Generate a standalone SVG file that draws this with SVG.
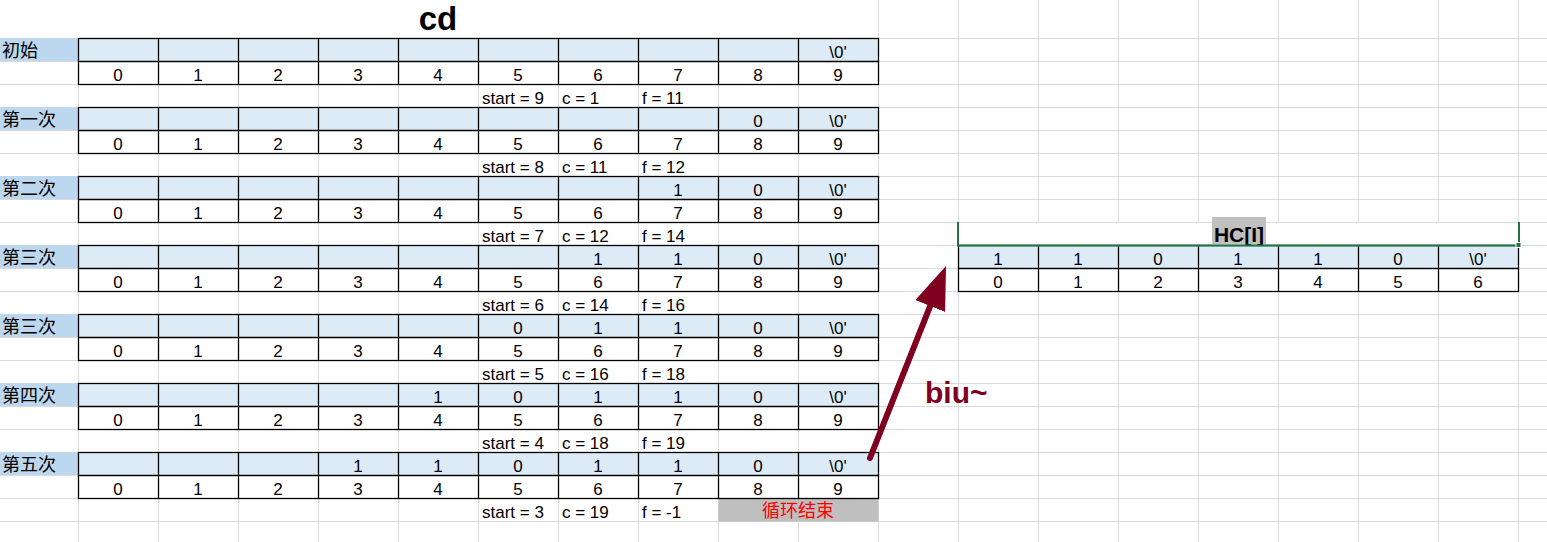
<svg xmlns="http://www.w3.org/2000/svg" width="1547" height="542" viewBox="0 0 1547 542">
<style>
.g{stroke:#DADADA;stroke-width:1;fill:none}
.bd{stroke:#000;stroke-width:1.3;fill:none}
.val{fill:#DDEBF7}
.lab{fill:#BDD7EE}
text{font-family:"Liberation Sans","Noto Sans CJK SC",sans-serif;font-size:17px;fill:#000}
.c{text-anchor:middle}
.cjk{font-family:"Noto Sans CJK SC",sans-serif;font-size:18px}
</style>
<defs>
<marker id="ah" markerUnits="userSpaceOnUse" viewBox="0 0 43 32" markerWidth="43" markerHeight="32" refX="10" refY="16" orient="auto">
<path d="M0,0 L43,16 L0,32 z" fill="#800020"/>
</marker>
</defs>
<rect width="1547" height="542" fill="#fff"/>
<g id="grid">
<path class="g" d="M78.5,38V542M158.5,38V542M238.5,38V542M318.5,38V542M398.5,38V542M478.5,38V542M558.5,38V542M638.5,38V542M718.5,38V542M798.5,38V542M878.5,0V542M958.5,0V542M1038.5,0V542M1118.5,0V542M1198.5,0V542M1278.5,0V542M1358.5,0V542M1438.5,0V542M1518.5,0V542"/>
<path class="g" d="M0,38.5H1547M0,61.5H1547M0,84.5H1547M0,107.5H1547M0,130.5H1547M0,153.5H1547M0,176.5H1547M0,199.5H1547M0,222.5H1547M0,245.5H1547M0,268.5H1547M0,291.5H1547M0,314.5H1547M0,337.5H1547M0,360.5H1547M0,383.5H1547M0,406.5H1547M0,429.5H1547M0,452.5H1547M0,475.5H1547M0,498.5H1547M0,521.5H1547"/>
</g>
<g id="title"><text class="c" x="438" y="30" style="font-size:33px;font-weight:bold">cd</text></g>

<g id="block0">
<rect class="lab" x="0" y="38" width="78" height="23"/>
<rect class="val" x="78.5" y="38.5" width="800" height="23"/>
<rect class="bd" x="78.5" y="38.5" width="800" height="46"/>
<path class="bd" d="M78.5,61.5H878.5M158.5,38.5V84.5M238.5,38.5V84.5M318.5,38.5V84.5M398.5,38.5V84.5M478.5,38.5V84.5M558.5,38.5V84.5M638.5,38.5V84.5M718.5,38.5V84.5M798.5,38.5V84.5"/>
<text class="cjk" x="2" y="57">初始</text>
<text class="c" x="838" y="58">\0'</text>
<text class="c" x="118" y="81">0</text><text class="c" x="198" y="81">1</text><text class="c" x="278" y="81">2</text><text class="c" x="358" y="81">3</text><text class="c" x="438" y="81">4</text><text class="c" x="518" y="81">5</text><text class="c" x="598" y="81">6</text><text class="c" x="678" y="81">7</text><text class="c" x="758" y="81">8</text><text class="c" x="838" y="81">9</text>
<text x="482" y="104">start = 9</text><text x="562" y="104">c = 1</text><text x="642" y="104">f = 11</text>
</g>

<g id="block1">
<rect class="lab" x="0" y="107" width="78" height="23"/>
<rect class="val" x="78.5" y="107.5" width="800" height="23"/>
<rect class="bd" x="78.5" y="107.5" width="800" height="46"/>
<path class="bd" d="M78.5,130.5H878.5M158.5,107.5V153.5M238.5,107.5V153.5M318.5,107.5V153.5M398.5,107.5V153.5M478.5,107.5V153.5M558.5,107.5V153.5M638.5,107.5V153.5M718.5,107.5V153.5M798.5,107.5V153.5"/>
<text class="cjk" x="2" y="126">第一次</text>
<text class="c" x="758" y="127">0</text><text class="c" x="838" y="127">\0'</text>
<text class="c" x="118" y="150">0</text><text class="c" x="198" y="150">1</text><text class="c" x="278" y="150">2</text><text class="c" x="358" y="150">3</text><text class="c" x="438" y="150">4</text><text class="c" x="518" y="150">5</text><text class="c" x="598" y="150">6</text><text class="c" x="678" y="150">7</text><text class="c" x="758" y="150">8</text><text class="c" x="838" y="150">9</text>
<text x="482" y="173">start = 8</text><text x="562" y="173">c = 11</text><text x="642" y="173">f = 12</text>
</g>

<g id="block2">
<rect class="lab" x="0" y="176" width="78" height="23"/>
<rect class="val" x="78.5" y="176.5" width="800" height="23"/>
<rect class="bd" x="78.5" y="176.5" width="800" height="46"/>
<path class="bd" d="M78.5,199.5H878.5M158.5,176.5V222.5M238.5,176.5V222.5M318.5,176.5V222.5M398.5,176.5V222.5M478.5,176.5V222.5M558.5,176.5V222.5M638.5,176.5V222.5M718.5,176.5V222.5M798.5,176.5V222.5"/>
<text class="cjk" x="2" y="195">第二次</text>
<text class="c" x="678" y="196">1</text><text class="c" x="758" y="196">0</text><text class="c" x="838" y="196">\0'</text>
<text class="c" x="118" y="219">0</text><text class="c" x="198" y="219">1</text><text class="c" x="278" y="219">2</text><text class="c" x="358" y="219">3</text><text class="c" x="438" y="219">4</text><text class="c" x="518" y="219">5</text><text class="c" x="598" y="219">6</text><text class="c" x="678" y="219">7</text><text class="c" x="758" y="219">8</text><text class="c" x="838" y="219">9</text>
<text x="482" y="242">start = 7</text><text x="562" y="242">c = 12</text><text x="642" y="242">f = 14</text>
</g>

<g id="block3">
<rect class="lab" x="0" y="245" width="78" height="23"/>
<rect class="val" x="78.5" y="245.5" width="800" height="23"/>
<rect class="bd" x="78.5" y="245.5" width="800" height="46"/>
<path class="bd" d="M78.5,268.5H878.5M158.5,245.5V291.5M238.5,245.5V291.5M318.5,245.5V291.5M398.5,245.5V291.5M478.5,245.5V291.5M558.5,245.5V291.5M638.5,245.5V291.5M718.5,245.5V291.5M798.5,245.5V291.5"/>
<text class="cjk" x="2" y="264">第三次</text>
<text class="c" x="598" y="265">1</text><text class="c" x="678" y="265">1</text><text class="c" x="758" y="265">0</text><text class="c" x="838" y="265">\0'</text>
<text class="c" x="118" y="288">0</text><text class="c" x="198" y="288">1</text><text class="c" x="278" y="288">2</text><text class="c" x="358" y="288">3</text><text class="c" x="438" y="288">4</text><text class="c" x="518" y="288">5</text><text class="c" x="598" y="288">6</text><text class="c" x="678" y="288">7</text><text class="c" x="758" y="288">8</text><text class="c" x="838" y="288">9</text>
<text x="482" y="311">start = 6</text><text x="562" y="311">c = 14</text><text x="642" y="311">f = 16</text>
</g>

<g id="block4">
<rect class="lab" x="0" y="314" width="78" height="23"/>
<rect class="val" x="78.5" y="314.5" width="800" height="23"/>
<rect class="bd" x="78.5" y="314.5" width="800" height="46"/>
<path class="bd" d="M78.5,337.5H878.5M158.5,314.5V360.5M238.5,314.5V360.5M318.5,314.5V360.5M398.5,314.5V360.5M478.5,314.5V360.5M558.5,314.5V360.5M638.5,314.5V360.5M718.5,314.5V360.5M798.5,314.5V360.5"/>
<text class="cjk" x="2" y="333">第三次</text>
<text class="c" x="518" y="334">0</text><text class="c" x="598" y="334">1</text><text class="c" x="678" y="334">1</text><text class="c" x="758" y="334">0</text><text class="c" x="838" y="334">\0'</text>
<text class="c" x="118" y="357">0</text><text class="c" x="198" y="357">1</text><text class="c" x="278" y="357">2</text><text class="c" x="358" y="357">3</text><text class="c" x="438" y="357">4</text><text class="c" x="518" y="357">5</text><text class="c" x="598" y="357">6</text><text class="c" x="678" y="357">7</text><text class="c" x="758" y="357">8</text><text class="c" x="838" y="357">9</text>
<text x="482" y="380">start = 5</text><text x="562" y="380">c = 16</text><text x="642" y="380">f = 18</text>
</g>

<g id="block5">
<rect class="lab" x="0" y="383" width="78" height="23"/>
<rect class="val" x="78.5" y="383.5" width="800" height="23"/>
<rect class="bd" x="78.5" y="383.5" width="800" height="46"/>
<path class="bd" d="M78.5,406.5H878.5M158.5,383.5V429.5M238.5,383.5V429.5M318.5,383.5V429.5M398.5,383.5V429.5M478.5,383.5V429.5M558.5,383.5V429.5M638.5,383.5V429.5M718.5,383.5V429.5M798.5,383.5V429.5"/>
<text class="cjk" x="2" y="402">第四次</text>
<text class="c" x="438" y="403">1</text><text class="c" x="518" y="403">0</text><text class="c" x="598" y="403">1</text><text class="c" x="678" y="403">1</text><text class="c" x="758" y="403">0</text><text class="c" x="838" y="403">\0'</text>
<text class="c" x="118" y="426">0</text><text class="c" x="198" y="426">1</text><text class="c" x="278" y="426">2</text><text class="c" x="358" y="426">3</text><text class="c" x="438" y="426">4</text><text class="c" x="518" y="426">5</text><text class="c" x="598" y="426">6</text><text class="c" x="678" y="426">7</text><text class="c" x="758" y="426">8</text><text class="c" x="838" y="426">9</text>
<text x="482" y="449">start = 4</text><text x="562" y="449">c = 18</text><text x="642" y="449">f = 19</text>
</g>

<g id="block6">
<rect class="lab" x="0" y="452" width="78" height="23"/>
<rect class="val" x="78.5" y="452.5" width="800" height="23"/>
<rect x="718.5" y="498.5" width="160" height="23" fill="#BFBFBF"/>
<rect class="bd" x="78.5" y="452.5" width="800" height="46"/>
<path class="bd" d="M78.5,475.5H878.5M158.5,452.5V498.5M238.5,452.5V498.5M318.5,452.5V498.5M398.5,452.5V498.5M478.5,452.5V498.5M558.5,452.5V498.5M638.5,452.5V498.5M718.5,452.5V498.5M798.5,452.5V498.5"/>
<text class="cjk" x="2" y="471">第五次</text>
<text class="c" x="358" y="472">1</text><text class="c" x="438" y="472">1</text><text class="c" x="518" y="472">0</text><text class="c" x="598" y="472">1</text><text class="c" x="678" y="472">1</text><text class="c" x="758" y="472">0</text><text class="c" x="838" y="472">\0'</text>
<text class="c" x="118" y="495">0</text><text class="c" x="198" y="495">1</text><text class="c" x="278" y="495">2</text><text class="c" x="358" y="495">3</text><text class="c" x="438" y="495">4</text><text class="c" x="518" y="495">5</text><text class="c" x="598" y="495">6</text><text class="c" x="678" y="495">7</text><text class="c" x="758" y="495">8</text><text class="c" x="838" y="495">9</text>
<text x="482" y="518">start = 3</text><text x="562" y="518">c = 19</text><text x="642" y="518">f = -1</text>
<text class="c cjk" x="798" y="517" style="fill:#FF0000">循环结束</text>
</g>

<g id="hc-table">
<rect x="959" y="223" width="559" height="22" fill="#fff"/>
<rect x="1212" y="217" width="54" height="27" fill="#C0C0C0"/>
<text class="c" x="1239" y="242" style="font-size:21px;font-weight:bold">HC[I]</text>
<rect class="val" x="958.5" y="245.5" width="560" height="23"/>
<rect class="bd" x="958.5" y="245.5" width="560" height="46"/>
<path class="bd" d="M958.5,268.5H1518.5M1038.5,245.5V291.5M1118.5,245.5V291.5M1198.5,245.5V291.5M1278.5,245.5V291.5M1358.5,245.5V291.5M1438.5,245.5V291.5"/>
<path d="M958,222V245.5H1519M1519,222V245" fill="none" stroke="#217346" stroke-width="2"/>
<rect x="1516" y="242.5" width="5" height="5" fill="#217346" stroke="#fff" stroke-width="1"/>
<text class="c" x="998" y="265">1</text><text class="c" x="1078" y="265">1</text><text class="c" x="1158" y="265">0</text><text class="c" x="1238" y="265">1</text><text class="c" x="1318" y="265">1</text><text class="c" x="1398" y="265">0</text><text class="c" x="1478" y="265">\0'</text>
<text class="c" x="998" y="288">0</text><text class="c" x="1078" y="288">1</text><text class="c" x="1158" y="288">2</text><text class="c" x="1238" y="288">3</text><text class="c" x="1318" y="288">4</text><text class="c" x="1398" y="288">5</text><text class="c" x="1478" y="288">6</text>
</g>

<g id="connectors">
<line x1="870" y1="458" x2="933.9" y2="296.7" stroke="#800020" stroke-width="6" stroke-linecap="round" marker-end="url(#ah)"/>
</g>
<g id="label-biu"><text x="925" y="403" style="font-size:30px;font-weight:bold;fill:#800020">biu~</text></g>
</svg>
